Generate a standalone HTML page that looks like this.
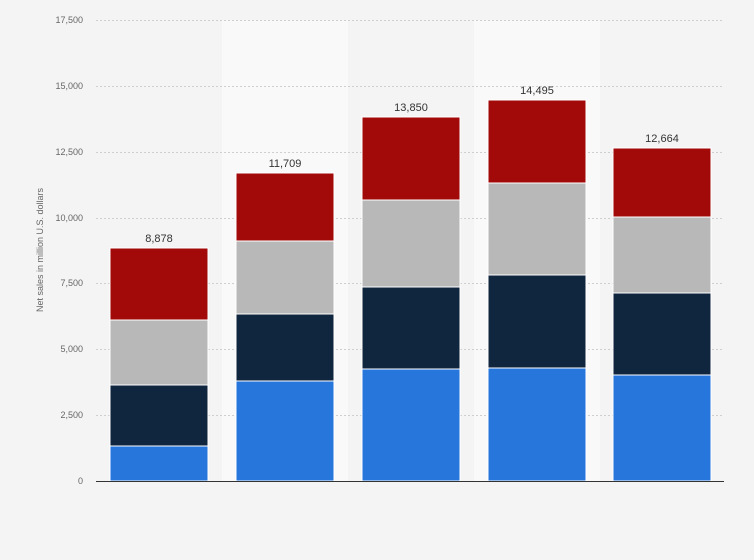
<!DOCTYPE html>
<html><head><style>
body{margin:0;background:#f4f4f4;}
svg{display:block;font-family:"Liberation Sans",sans-serif;}
</style></head><body>
<svg width="754" height="560" viewBox="0 0 754 560">
<rect width="754" height="560" fill="#f4f4f4"/>
<rect x="222" y="20" width="126" height="461" fill="#f9f9f9"/>
<rect x="474" y="20" width="126" height="461" fill="#f9f9f9"/>
<g stroke="#cfcfcf" stroke-dasharray="2,2" stroke-width="1">
<line x1="96" x2="724" y1="415.5" y2="415.5"/>
<line x1="96" x2="724" y1="349.5" y2="349.5"/>
<line x1="96" x2="724" y1="283.5" y2="283.5"/>
<line x1="96" x2="724" y1="218.5" y2="218.5"/>
<line x1="96" x2="724" y1="152.5" y2="152.5"/>
<line x1="96" x2="724" y1="86.5" y2="86.5"/>
<line x1="96" x2="724" y1="20.5" y2="20.5"/>
</g>
<g font-size="9" fill="#666" text-anchor="end">
<text x="83" y="484">0</text>
<text x="83" y="418">2,500</text>
<text x="83" y="352">5,000</text>
<text x="83" y="286">7,500</text>
<text x="83" y="221">10,000</text>
<text x="83" y="155">12,500</text>
<text x="83" y="89">15,000</text>
<text x="83" y="23">17,500</text>
</g>
<text transform="translate(43,250) rotate(-90)" font-size="9" fill="#666" text-anchor="middle">Net sales in million U.S. dollars</text>
<g stroke="#fff" stroke-width="1">
<rect x="110" y="446" width="98" height="35" fill="#2776dc"/>
<rect x="110" y="385" width="98" height="61" fill="#10263e"/>
<rect x="110" y="320" width="98" height="65" fill="#b8b8b8"/>
<rect x="110" y="248" width="98" height="72" fill="#a20a0a"/>
<rect x="236" y="381" width="98" height="100" fill="#2776dc"/>
<rect x="236" y="314" width="98" height="67" fill="#10263e"/>
<rect x="236" y="241" width="98" height="73" fill="#b8b8b8"/>
<rect x="236" y="173" width="98" height="68" fill="#a20a0a"/>
<rect x="362" y="369" width="98" height="112" fill="#2776dc"/>
<rect x="362" y="287" width="98" height="82" fill="#10263e"/>
<rect x="362" y="200" width="98" height="87" fill="#b8b8b8"/>
<rect x="362" y="117" width="98" height="83" fill="#a20a0a"/>
<rect x="488" y="368" width="98" height="113" fill="#2776dc"/>
<rect x="488" y="275" width="98" height="93" fill="#10263e"/>
<rect x="488" y="183" width="98" height="92" fill="#b8b8b8"/>
<rect x="488" y="100" width="98" height="83" fill="#a20a0a"/>
<rect x="613" y="375" width="98" height="106" fill="#2776dc"/>
<rect x="613" y="293" width="98" height="82" fill="#10263e"/>
<rect x="613" y="217" width="98" height="76" fill="#b8b8b8"/>
<rect x="613" y="148" width="98" height="69" fill="#a20a0a"/>
</g>
<line x1="96" x2="724" y1="481.5" y2="481.5" stroke="#333" stroke-width="1"/>
<g font-size="11" fill="#333" text-anchor="middle">
<text x="159" y="242">8,878</text>
<text x="285" y="167">11,709</text>
<text x="411" y="111">13,850</text>
<text x="537" y="94">14,495</text>
<text x="662" y="142">12,664</text>
</g>
</svg>
</body></html>
